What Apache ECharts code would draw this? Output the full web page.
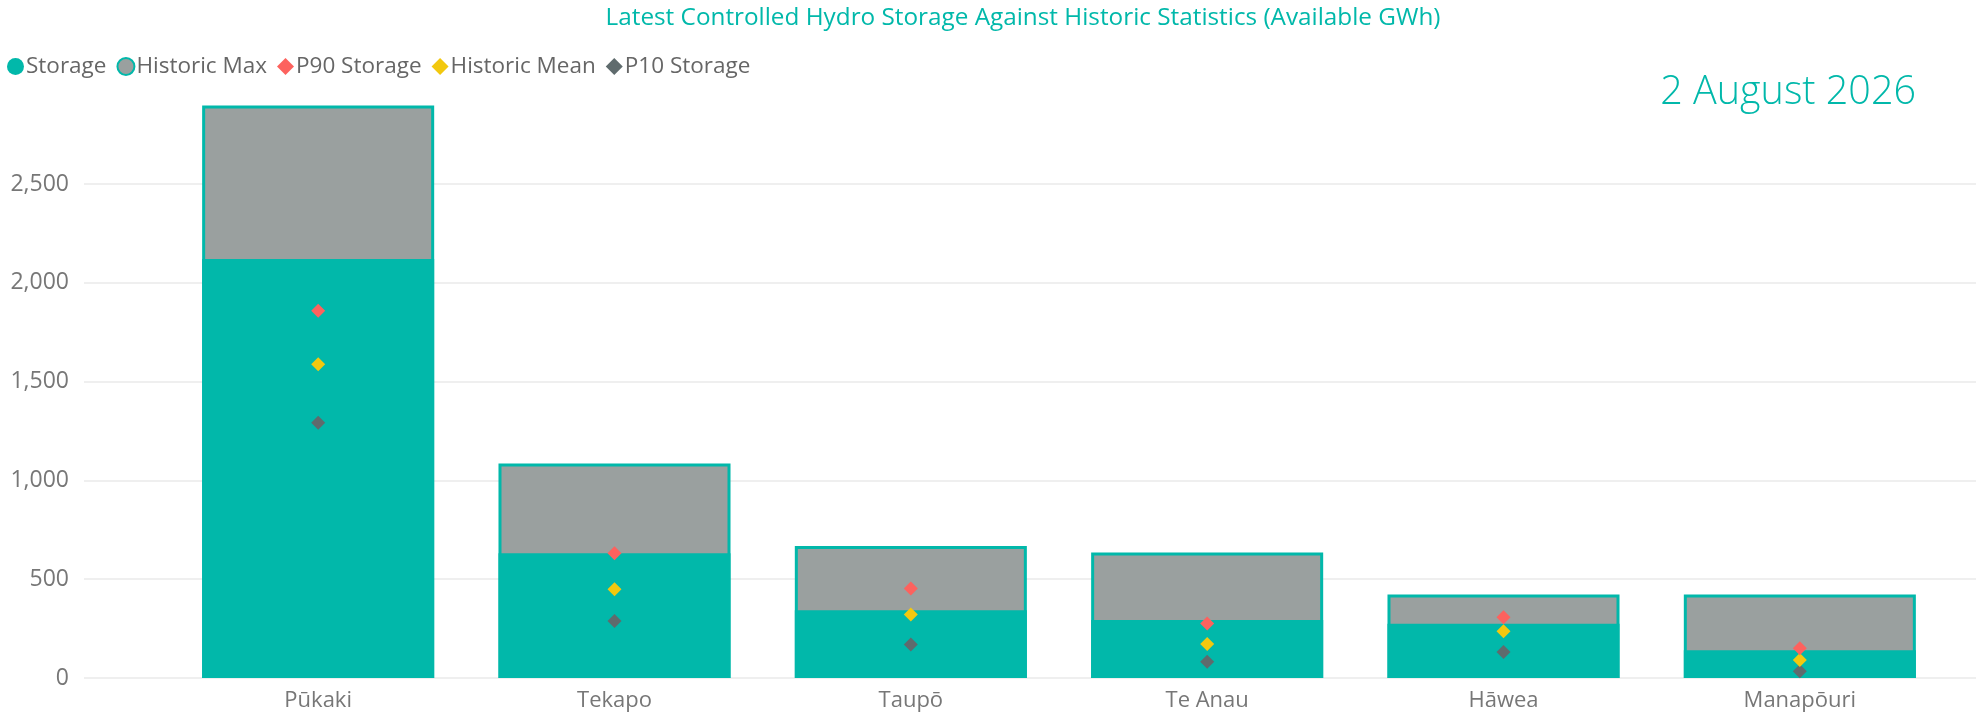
<!DOCTYPE html>
<html>
<head>
<meta charset="utf-8">
<script src="https://cdn.jsdelivr.net/npm/echarts@6/dist/echarts.min.js"></script>
<style>
html,body{margin:0;padding:0;background:#fff;}
#chart{width:1976px;height:713px;}
</style>
</head>
<body>
<div id="chart"></div>
<script>
const categories = ['Pūkaki', 'Tekapo', 'Taupō', 'Te Anau', 'Hāwea', 'Manapōuri'];
const storage = [2120, 631, 343, 293, 274, 140];
const historicMax = [2898, 1086, 668, 635, 423, 423];
const p90Storage = [1859, 631, 453, 276, 308, 151];
const historicMean = [1588, 449, 322, 172, 237, 91];
const p10Storage = [1292, 288, 170, 82, 131, 34];
const yTicks = [0, 500, 1000, 1500, 2000, 2500];
const titleText = 'Latest Controlled Hydro Storage Against Historic Statistics (Available GWh)';
const dateText = '2 August 2026';

const TEAL = '#01B8AA';
const GREY = '#9AA09F';
const RED = '#FD625E';
const YELLOW = '#F2C80F';
const DARK = '#5F6B6D';
const FONT = '"Open Sans", "Noto Sans", sans-serif';
const YMAX = 2900;

const chart = echarts.init(document.getElementById('chart'));
chart.setOption({
  animation: false,
  textStyle: { fontFamily: FONT },
  title: {
    text: titleText,
    left: 1018, textAlign: 'center', top: 1,
    textStyle: { color: TEAL, fontSize: 24.3, fontWeight: 'normal', fontFamily: FONT }
  },
  graphic: [{
    type: 'text', right: 60, top: 73,
    style: { text: dateText, fill: TEAL, fontSize: 39.5, fontWeight: 300, fontFamily: FONT }
  }],
  legend: {
    left: 2, top: 50, itemWidth: 17, itemHeight: 17, itemGap: 10,
    textStyle: { color: '#666', fontSize: 22.5, fontFamily: FONT, padding: [0, 0, 0, -3] },
    data: [
      { name: 'Storage', icon: 'circle' },
      { name: 'Historic Max', icon: 'circle' },
      { name: 'P90 Storage', icon: 'diamond' },
      { name: 'Historic Mean', icon: 'diamond' },
      { name: 'P10 Storage', icon: 'diamond' }
    ]
  },
  grid: [
    { left: 170, right: 28, top: 105, bottom: 35 },
    { left: 84, right: 0, top: 105, bottom: 35 }
  ],
  xAxis: [
    { type: 'category', gridIndex: 0, data: categories,
      axisLine: { show: false }, axisTick: { show: false },
      axisLabel: { color: '#777', fontSize: 22, margin: 12, fontFamily: FONT } },
    { type: 'value', gridIndex: 1, show: false, min: 0, max: 1 }
  ],
  yAxis: [
    { type: 'value', gridIndex: 0, min: 0, max: YMAX, interval: 500,
      axisLabel: { show: false }, splitLine: { show: false }, axisLine: { show: false }, axisTick: { show: false } },
    { type: 'value', gridIndex: 1, min: 0, max: YMAX, interval: 500,
      axisLine: { show: false }, axisTick: { show: false },
      axisLabel: { color: '#777', fontSize: 23, margin: 15, fontFamily: FONT, showMaxLabel: false,
        formatter: v => yTicks.indexOf(v) >= 0 ? v.toLocaleString('en-US') : '' },
      splitLine: { show: true, showMaxLine: false, lineStyle: { color: '#EAEAEA', width: 1.5 } } }
  ],
  series: [
    { name: 'Historic Max', type: 'bar', xAxisIndex: 0, yAxisIndex: 0, data: historicMax,
      barWidth: '78.3%', barGap: '-100%', z: 2,
      itemStyle: { color: GREY, borderColor: TEAL, borderWidth: 3 } },
    { name: 'Storage', type: 'bar', xAxisIndex: 0, yAxisIndex: 0, data: storage,
      barWidth: '78.3%', barGap: '-100%', z: 3,
      itemStyle: { color: TEAL } },
    { name: 'P10 Storage', type: 'scatter', xAxisIndex: 0, yAxisIndex: 0, data: p10Storage,
      symbol: 'diamond', symbolSize: 14, z: 4, itemStyle: { color: DARK, opacity: 1 } },
    { name: 'Historic Mean', type: 'scatter', xAxisIndex: 0, yAxisIndex: 0, data: historicMean,
      symbol: 'diamond', symbolSize: 14, z: 4, itemStyle: { color: YELLOW, opacity: 1 } },
    { name: 'P90 Storage', type: 'scatter', xAxisIndex: 0, yAxisIndex: 0, data: p90Storage,
      symbol: 'diamond', symbolSize: 14, z: 4, itemStyle: { color: RED, opacity: 1 } }
  ]
});
</script>
</body>
</html>
